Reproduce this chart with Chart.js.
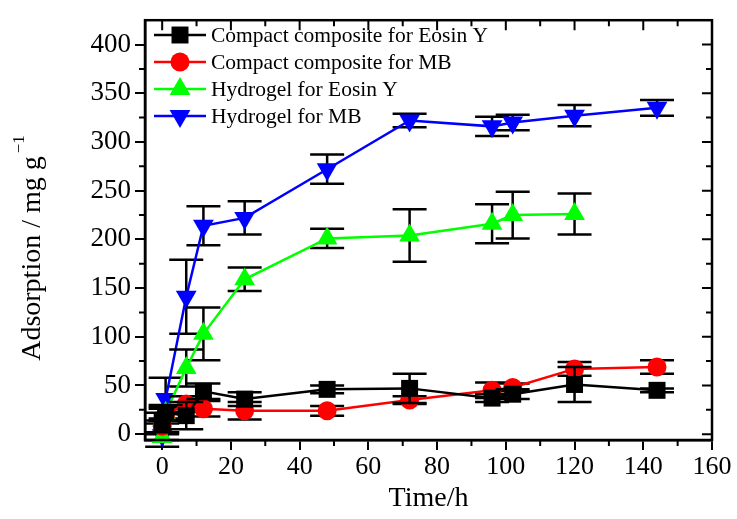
<!DOCTYPE html>
<html>
<head>
<meta charset="utf-8">
<script src="https://cdn.jsdelivr.net/npm/chart.js@4.4.0/dist/chart.umd.min.js"></script>
<style>
  html, body { margin: 0; padding: 0; background: #fff; }
  #wrap { width: 737px; height: 519px; }
</style>
</head>
<body>
<div id="wrap"><canvas id="chart"></canvas></div>
<script>
// Data
const seriesNames = ["Compact composite for Eosin Y", "Compact composite for MB", "Hydrogel for Eosin Y", "Hydrogel for MB"];

const timeCE = [0, 1, 7, 12, 24, 48, 72, 96, 102, 120, 144];
const adsCE  = [12, 22, 19, 44, 36, 46, 47, 37, 41, 51, 45];
const errCE  = [10, 8, 14, 8, 7, 4, 15, 4, 5, 18, 2];

const timeCM = [0, 1, 7, 12, 24, 48, 72, 96, 102, 120, 144];
const adsCM  = [8, 20, 31, 26, 24, 24, 35, 45, 48, 67, 69];
const errCM  = [6, 6, 8, 8, 9, 5, 4, 8, 4, 7, 7];

const timeHE = [0, 1, 7, 12, 24, 48, 72, 96, 102, 120];
const adsHE  = [-3, 22, 68, 103, 159, 201, 204, 216, 225, 226];
const errHE  = [3, 6, 19, 27, 12, 10, 27, 20, 24, 21];

const timeHM = [0, 1, 7, 12, 24, 48, 72, 96, 102, 120, 144];
const adsHM  = [-1, 36, 141, 214, 222, 272, 322, 316, 320, 327, 335];
const errHM  = [12, 22, 38, 20, 17, 15, 7, 10, 8, 11, 8];

const xTickLabels = [0, 20, 40, 60, 80, 100, 120, 140, 160];
const yTickLabels = [0, 50, 100, 150, 200, 250, 300, 350, 400];
const xMinorTicks = [10, 30, 50, 70, 90, 110, 130, 150];
const yMinorTicks = [25, 75, 125, 175, 225, 275, 325, 375];

const yTitle = "Adsorption / mg g";
const yTitleSup = "\u22121";

const serif = "'Liberation Serif', 'Times New Roman', serif";
const colors = ["#000000", "#ff0000", "#00ff00", "#0000ff"];
const styles = [
  { pointStyle: "rect", radius: 12, rotation: 0 },
  { pointStyle: "circle", radius: 9.5, rotation: 0 },
  { pointStyle: "triangle", radius: 12, rotation: 0 },
  { pointStyle: "triangle", radius: 12, rotation: 180 }
];

const errors = [errCE, errCM, errHE, errHM];

function pts(t, v){ return t.map((x, i) => ({ x: x, y: v[i] })); }

const datasets = [pts(timeCE, adsCE), pts(timeCM, adsCM), pts(timeHE, adsHE), pts(timeHM, adsHM)].map((d, i) => ({
  label: seriesNames[i],
  data: d,
  borderColor: colors[i],
  backgroundColor: colors[i],
  borderWidth: 2.5,
  pointStyle: styles[i].pointStyle,
  pointRadius: styles[i].radius,
  pointRotation: styles[i].rotation,
  pointBorderWidth: 0,
  tension: 0,
  clip: false
}));

// error bars, frame, minor ticks, y title and legend
const extras = {
  id: "extras",
  beforeDatasetDraw(chart, args){
    const i = args.index;
    const meta = chart.getDatasetMeta(i);
    const y = chart.scales.y;
    const ctx = chart.ctx;
    ctx.save();
    ctx.strokeStyle = "#000";
    ctx.lineWidth = 2.5;
    meta.data.forEach((p, j) => {
      const v = chart.data.datasets[i].data[j].y;
      const e = errors[i][j];
      const top = y.getPixelForValue(v + e);
      const bot = y.getPixelForValue(v - e);
      ctx.beginPath();
      ctx.moveTo(p.x, top); ctx.lineTo(p.x, bot);
      ctx.moveTo(p.x - 17, top); ctx.lineTo(p.x + 17, top);
      ctx.moveTo(p.x - 17, bot); ctx.lineTo(p.x + 17, bot);
      ctx.stroke();
    });
    ctx.restore();
  },
  afterDraw(chart){
    const ctx = chart.ctx;
    const a = chart.chartArea;
    const xs = chart.scales.x, ys = chart.scales.y;
    ctx.save();
    ctx.strokeStyle = "#000";
    ctx.lineWidth = 2.5;
    ctx.strokeRect(a.left, a.top, a.right - a.left, a.bottom - a.top);
    ctx.lineWidth = 2;
    ctx.beginPath();
    xTickLabels.forEach(v => {
      const px = xs.getPixelForValue(v);
      ctx.moveTo(px, a.top); ctx.lineTo(px, a.top + 10);
    });
    xMinorTicks.forEach(v => {
      const px = xs.getPixelForValue(v);
      ctx.moveTo(px, a.top); ctx.lineTo(px, a.top + 6);
      ctx.moveTo(px, a.bottom); ctx.lineTo(px, a.bottom + 6);
    });
    yTickLabels.forEach(v => {
      const py = ys.getPixelForValue(v);
      ctx.moveTo(a.right, py); ctx.lineTo(a.right - 10, py);
    });
    yMinorTicks.forEach(v => {
      const py = ys.getPixelForValue(v);
      ctx.moveTo(a.right, py); ctx.lineTo(a.right - 6, py);
      ctx.moveTo(a.left, py); ctx.lineTo(a.left - 6, py);
    });
    ctx.stroke();

    // y axis title with superscript
    ctx.fillStyle = "#000";
    ctx.textBaseline = "alphabetic";
    ctx.textAlign = "left";
    ctx.font = "28px " + serif;
    const w1 = ctx.measureText(yTitle).width;
    ctx.font = "17px " + serif;
    const w2 = ctx.measureText(yTitleSup).width;
    const total = w1 + 3 + w2;
    ctx.translate(40, 248);
    ctx.rotate(-Math.PI / 2);
    ctx.font = "28px " + serif;
    ctx.fillText(yTitle, -total / 2, 0);
    ctx.font = "17px " + serif;
    ctx.fillText(yTitleSup, -total / 2 + w1 + 3, -16);
    ctx.setTransform(1, 0, 0, 1, 0, 0);

    // legend
    ctx.font = "21.5px " + serif;
    ctx.textBaseline = "middle";
    const rowY = [35, 62, 89, 116];
    seriesNames.forEach((name, i) => {
      const yy = rowY[i];
      ctx.strokeStyle = colors[i];
      ctx.lineWidth = 2.5;
      ctx.beginPath();
      ctx.moveTo(154, yy); ctx.lineTo(206, yy);
      ctx.stroke();
      ctx.fillStyle = colors[i];
      const r = styles[i].radius;
      ctx.beginPath();
      if (i === 0) {
        const s = r * Math.SQRT1_2;
        ctx.rect(180 - s, yy - s, 2 * s, 2 * s);
      } else if (i === 1) {
        ctx.arc(180, yy, r, 0, Math.PI * 2);
      } else {
        const dir = i === 2 ? 1 : -1;
        const w = r * Math.sin(Math.PI / 3);
        ctx.moveTo(180, yy - dir * r);
        ctx.lineTo(180 + w, yy + dir * r / 2);
        ctx.lineTo(180 - w, yy + dir * r / 2);
        ctx.closePath();
      }
      ctx.fill();
      ctx.fillStyle = "#000";
      ctx.fillText(name, 211, yy + 1);
    });
    ctx.restore();
  }
};

new Chart(document.getElementById("chart"), {
  type: "line",
  data: { datasets: datasets },
  options: {
    responsive: true,
    maintainAspectRatio: false,
    animation: false,
    layout: { padding: { top: 14, right: 25, left: 0, bottom: 0 } },
    plugins: { legend: { display: false }, tooltip: { enabled: false } },
    scales: {
      x: {
        type: "linear",
        min: -5, max: 160,
        afterBuildTicks: s => { s.ticks = xTickLabels.map(v => ({ value: v })); },
        afterFit: s => { s.height = 79; },
        grid: { drawOnChartArea: false, color: "#000", lineWidth: 2, tickLength: 10 },
        border: { display: true, color: "#000", width: 2.5 },
        ticks: { color: "#000", font: { family: serif, size: 26 }, padding: 2, maxRotation: 0 },
        title: { display: true, text: "Time/h", color: "#000", font: { family: serif, size: 28 }, padding: { top: 0, bottom: 4 } }
      },
      y: {
        min: -6, max: 425,
        afterBuildTicks: s => { s.ticks = yTickLabels.map(v => ({ value: v })); },
        afterFit: s => { s.width = 145; },
        grid: { drawOnChartArea: false, color: "#000", lineWidth: 2, tickLength: 10 },
        border: { display: true, color: "#000", width: 2.5 },
        ticks: { color: "#000", font: { family: serif, size: 27 }, padding: 4 },
        title: { display: false }
      }
    }
  },
  plugins: [extras]
});
</script>
</body>
</html>
